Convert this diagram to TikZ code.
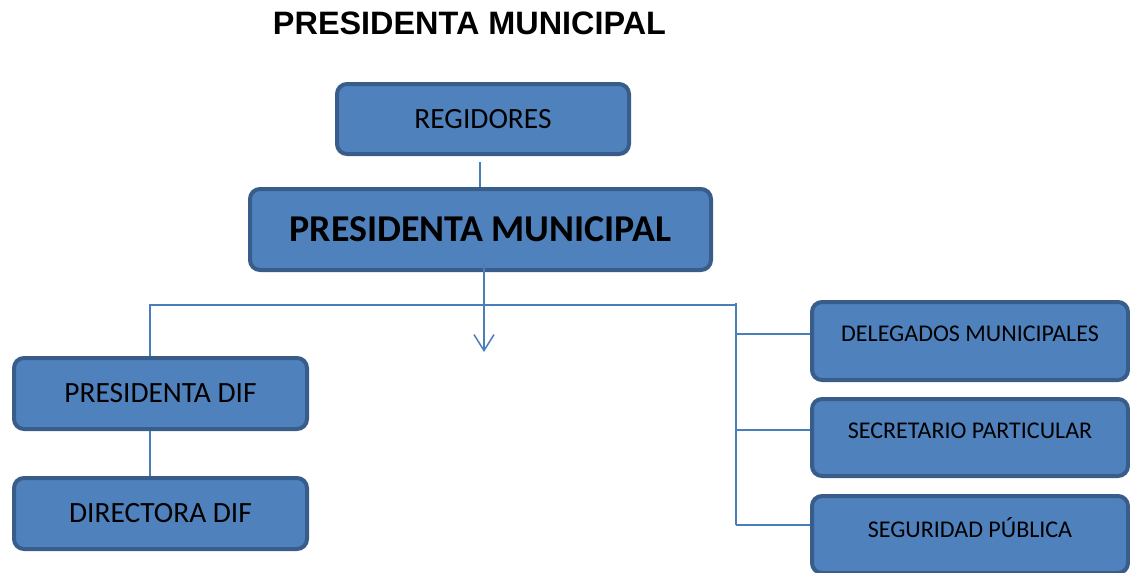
\documentclass[tikz,border=0pt]{standalone}
\usepackage{fontspec}
\setmainfont{Carlito}
\newfontfamily\titlefont{Liberation Sans}
\usetikzlibrary{arrows.meta,calc}
\definecolor{boxfill}{HTML}{4F81BD}
\definecolor{boxline}{HTML}{385D8A}
\definecolor{conn}{HTML}{4A7EBB}
\tikzset{
  orgbox/.style={draw=boxline, fill=boxfill, line width=4pt, rounded corners=10pt, inner sep=0pt},
  bigtxt/.style={font=\fontsize{29.4}{32}\selectfont, text=black},
  smalltxt/.style={font=\fontsize{24}{26}\selectfont, text=black},
  conline/.style={draw=conn, line width=1.5pt}
}
\begin{document}
\begin{tikzpicture}[x=1pt,y=-1pt]
\useasboundingbox (0,0) rectangle (1130,573);
\node[font=\titlefont\bfseries\fontsize{32.4}{34}\selectfont] (title) at (469.5,23) {PRESIDENTA MUNICIPAL};

\node[orgbox, bigtxt, minimum width=292pt, minimum height=70pt] (reg) at (483,119) {REGIDORES};
\node[orgbox, font=\bfseries\fontsize{37.9}{40}\selectfont, minimum width=461pt, minimum height=81pt] (pm) at (480.5,229.5) {PRESIDENTA MUNICIPAL};
\node[orgbox, bigtxt, minimum width=293pt, minimum height=71pt] (pdif) at (160.5,393.5) {PRESIDENTA DIF};
\node[orgbox, bigtxt, minimum width=293pt, minimum height=71pt] (ddif) at (160.5,513.5) {DIRECTORA DIF};

\node[orgbox, minimum width=316pt, minimum height=78pt] (del) at (970,341) {};
\node[smalltxt] (deltxt) at (970,334) {DELEGADOS MUNICIPALES};
\node[orgbox, minimum width=316pt, minimum height=77pt] (sec) at (970,437.5) {};
\node[smalltxt] (sectxt) at (970,431) {SECRETARIO PARTICULAR};
\node[orgbox, minimum width=316pt, minimum height=77pt] (seg) at (970,534.5) {};
\node[smalltxt] (segtxt) at (970,528) {SEGURIDAD PÚBLICA};

\coordinate (regbot) at (480,162);
\coordinate (arrowtip) at (484,352);
\coordinate (busL) at (150,305);
\coordinate (busR) at (736,305);
\coordinate (vtop) at (736,303);

\draw[conline] (regbot) -- (regbot |- pm.north);
\draw[conline, -{Straight Barb[length=16pt,width=20pt]}] (484,264) -- (arrowtip);
\draw[conline] (pdif.north -| busL) -- (busL) -- (busR);
\draw[conline] (pdif.south -| busL) -- (ddif.north -| busL);
\draw[conline] (vtop) -- (736,525);
\draw[conline] (736,334) -- (del.west |- 736,334);
\draw[conline] (736,430) -- (sec.west |- 736,430);
\draw[conline] (736,525) -- (seg.west |- 736,525);
\end{tikzpicture}
\end{document}
